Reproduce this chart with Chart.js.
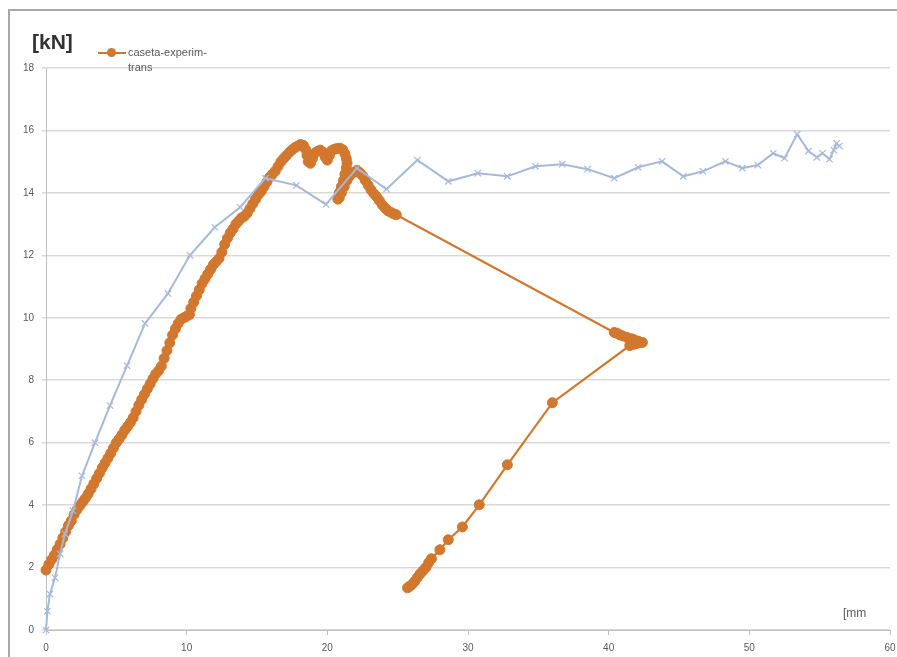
<!DOCTYPE html>
<html>
<head>
<meta charset="utf-8">
<title>caseta-experim-trans</title>
<script src="https://cdn.jsdelivr.net/npm/chart.js@4.4.1/dist/chart.umd.min.js"></script>
<style>
  html, body { margin: 0; padding: 0; background: #fff; overflow: hidden; }
  #wrap { position: relative; width: 897px; height: 657px; }
  #frame { position: absolute; left: 8px; top: 9px; width: 1000px; height: 800px;
           border: 2px solid #a8a8a8; box-sizing: border-box; pointer-events: none; }
  .lbl { position: absolute; font-family: "Liberation Sans", Arial, sans-serif; color: #595959; white-space: nowrap; }
  #ytitle { left: 32px; top: 30px; font-size: 21px; font-weight: bold; color: #333; }
  #xtitle { left: 843px; top: 606px; font-size: 12px; }
  #legend { left: 98px; top: 45px; font-size: 11px; line-height: 15px; }
  #legend .sw { position: absolute; left: 0; top: 7px; width: 28px; height: 2px; background: #d2772e; }
  #legend .dot { position: absolute; left: 9px; top: 3px; width: 9px; height: 9px; border-radius: 50%; background: #d2772e; }
  #legend .txt { position: absolute; left: 30px; top: 0; }
</style>
</head>
<body>
<div id="wrap">
  <canvas id="chart"></canvas>
  <div id="frame"></div>
  <div class="lbl" id="ytitle">[kN]</div>
  <div class="lbl" id="xtitle">[mm</div>
  <div class="lbl" id="legend"><span class="sw"></span><span class="dot"></span><span class="txt">caseta-experim-<br>trans</span></div>
</div>
<script>
// blue series (no legend entry): displacement [mm] / force [kN]
const blueX = [0, 0.1, 0.28, 0.64, 1.0, 1.35, 1.92, 2.56, 3.48, 4.55, 5.76, 7.04, 8.67, 10.23, 12.0, 13.8,
  15.6, 17.8, 19.9, 22.1, 24.2, 26.4, 28.6, 30.7, 32.8, 34.8, 36.7, 38.5, 40.4, 42.1, 43.8, 45.3,
  46.7, 48.3, 49.5, 50.6, 51.7, 52.5, 53.4, 54.2, 54.8, 55.2, 55.7, 56.0, 56.2, 56.4];
const blueY = [0, 0.6, 1.15, 1.67, 2.44, 3.08, 3.82, 4.94, 6.0, 7.19, 8.47, 9.82, 10.78, 12.0, 12.9, 13.54,
  14.47, 14.24, 13.63, 14.79, 14.12, 15.05, 14.37, 14.63, 14.53, 14.85, 14.92, 14.76, 14.47, 14.82, 15.01, 14.53,
  14.69, 15.01, 14.79, 14.89, 15.27, 15.11, 15.88, 15.34, 15.14, 15.27, 15.08, 15.37, 15.59, 15.5];

// orange series: caseta-experim-trans (dense loading branch, jump, unloading branch)
const orangeX = [0, 0.2, 0.4, 0.6, 0.8, 1.0, 1.2, 1.4, 1.6, 1.8, 2.0, 2.2, 2.4, 2.6, 2.8, 3.0, 3.2, 3.4, 3.6, 3.8,
  4.0, 4.2, 4.4, 4.6, 4.8, 5.0, 5.2, 5.4, 5.6, 5.8, 6.0, 6.2, 6.4, 6.6, 6.8, 7.0, 7.2, 7.4, 7.6, 7.8,
  8.0, 8.2, 8.4, 8.6, 8.8, 9.0, 9.2, 9.4, 9.6, 9.8, 10.0, 10.2, 10.3, 10.5, 10.7, 10.9, 11.1, 11.3, 11.5, 11.7,
  11.9, 12.1, 12.3, 12.5, 12.7, 12.9, 13.1, 13.3, 13.5, 13.7, 13.9, 14.1, 14.3, 14.5, 14.7, 14.9, 15.1, 15.3,
  15.5, 15.7, 15.9, 16.1, 16.3, 16.5, 16.7, 16.9, 17.1, 17.3, 17.5, 17.7, 17.9, 18.1, 18.3, 18.45, 18.55, 18.65,
  18.8, 18.95, 19.1, 19.3, 19.5, 19.7, 19.85, 20.0, 20.15, 20.3, 20.5, 20.7, 20.9, 21.1, 21.25, 21.35, 21.4,
  21.35, 21.25, 21.15, 21.0, 20.85, 20.75, 20.85, 21.0, 21.2, 21.4, 21.6, 21.85, 22.1, 22.3, 22.5, 22.7, 22.9,
  23.1, 23.3, 23.5, 23.7, 23.9, 24.1, 24.3, 24.5, 24.7, 24.9,
  40.4, 40.6, 40.8, 41.0, 41.3, 41.6, 41.8, 42.1, 42.4, 42.2, 42.0, 41.8, 41.5,
  36.0, 32.8, 30.8, 29.6, 28.6, 28.0, 27.4, 27.2, 27.0, 26.8, 26.6, 26.4, 26.2, 26.0, 25.85, 25.7];
const orangeY = [1.92, 2.1, 2.25, 2.4, 2.58, 2.75, 2.95, 3.15, 3.35, 3.5, 3.7, 3.85, 3.98, 4.1, 4.22, 4.36, 4.52, 4.68, 4.85, 5.02,
  5.2, 5.35, 5.5, 5.66, 5.83, 6.0, 6.12, 6.25, 6.4, 6.52, 6.65, 6.8, 7.0, 7.2, 7.38, 7.55, 7.72, 7.88, 8.05, 8.2,
  8.3, 8.45, 8.7, 8.95, 9.2, 9.45, 9.65, 9.82, 9.95, 10.0, 10.05, 10.1, 10.3, 10.5, 10.7, 10.9, 11.1, 11.25, 11.4, 11.55,
  11.7, 11.8, 11.9, 12.1, 12.35, 12.55, 12.72, 12.85, 13.0, 13.1, 13.2, 13.25, 13.35, 13.5, 13.65, 13.8, 13.95, 14.05,
  14.2, 14.35, 14.5, 14.6, 14.7, 14.85, 15.0, 15.1, 15.2, 15.3, 15.38, 15.45, 15.5, 15.55, 15.52, 15.4, 15.2, 15.0,
  14.95, 15.1, 15.27, 15.33, 15.37, 15.3, 15.15, 15.05, 15.2, 15.35, 15.4, 15.42, 15.43, 15.38, 15.25, 15.1, 14.95,
  14.8, 14.6, 14.4, 14.2, 14.0, 13.8, 13.85, 14.0, 14.2, 14.4, 14.55, 14.65, 14.72, 14.65, 14.55, 14.4, 14.25,
  14.1, 13.98, 13.88, 13.75, 13.62, 13.52, 13.43, 13.38, 13.33, 13.3,
  9.53, 9.5, 9.45, 9.42, 9.37, 9.33, 9.3, 9.25, 9.21, 9.2, 9.18, 9.15, 9.11,
  7.28, 5.29, 4.01, 3.3, 2.89, 2.57, 2.28, 2.15, 2.0, 1.9, 1.8, 1.68, 1.55, 1.45, 1.4, 1.35];

const xTicks = [0, 10, 20, 30, 40, 50, 60];
const yTicks = [0, 2, 4, 6, 8, 10, 12, 14, 16, 18];

const toPoints = (xs, ys) => xs.map((x, i) => ({ x: x, y: ys[i] }));

const tickFont = { family: '"Liberation Sans", Arial, sans-serif', size: 10 };

new Chart(document.getElementById('chart'), {
  type: 'scatter',
  data: {
    datasets: [
      {
        label: 'blue',
        data: toPoints(blueX, blueY),
        showLine: true,
        clip: false,
        borderColor: '#a6b9db',
        backgroundColor: '#a6b9db',
        borderWidth: 2,
        pointStyle: 'crossRot',
        pointRadius: 4.5,
        pointBorderWidth: 1.2,
        pointBorderColor: '#a6b9db'
      },
      {
        label: 'caseta-experim-trans',
        data: toPoints(orangeX, orangeY),
        showLine: true,
        clip: false,
        borderColor: '#d2772e',
        backgroundColor: '#d2772e',
        borderWidth: 2.2,
        pointStyle: 'circle',
        pointRadius: 5,
        pointBorderWidth: 1,
        pointBorderColor: '#d2772e'
      }
    ]
  },
  options: {
    responsive: true,
    maintainAspectRatio: false,
    animation: false,
    layout: { padding: { left: 0, right: 7, top: 68, bottom: 0 } },
    plugins: {
      legend: { display: false },
      tooltip: { enabled: false }
    },
    scales: {
      x: {
        type: 'linear',
        min: 0,
        max: 60,
        afterBuildTicks: (axis) => { axis.ticks = xTicks.map(v => ({ value: v })); },
        afterFit: (axis) => { axis.height = 27; axis.paddingRight = 0; axis.paddingLeft = 0; },
        border: { color: '#bfbfbf', width: 1 },
        grid: { drawOnChartArea: false, color: '#bfbfbf', tickLength: 5 },
        ticks: { color: '#595959', font: tickFont, padding: 7, maxRotation: 0 }
      },
      y: {
        type: 'linear',
        min: 0,
        max: 18,
        afterBuildTicks: (axis) => { axis.ticks = yTicks.map(v => ({ value: v })); },
        afterFit: (axis) => { axis.width = 46; },
        border: { color: '#bfbfbf', width: 1 },
        grid: { color: '#d9d9d9', lineWidth: 1.5, tickLength: 4 },
        ticks: { color: '#595959', font: tickFont, padding: 8 }
      }
    }
  }
});
</script>
</body>
</html>
